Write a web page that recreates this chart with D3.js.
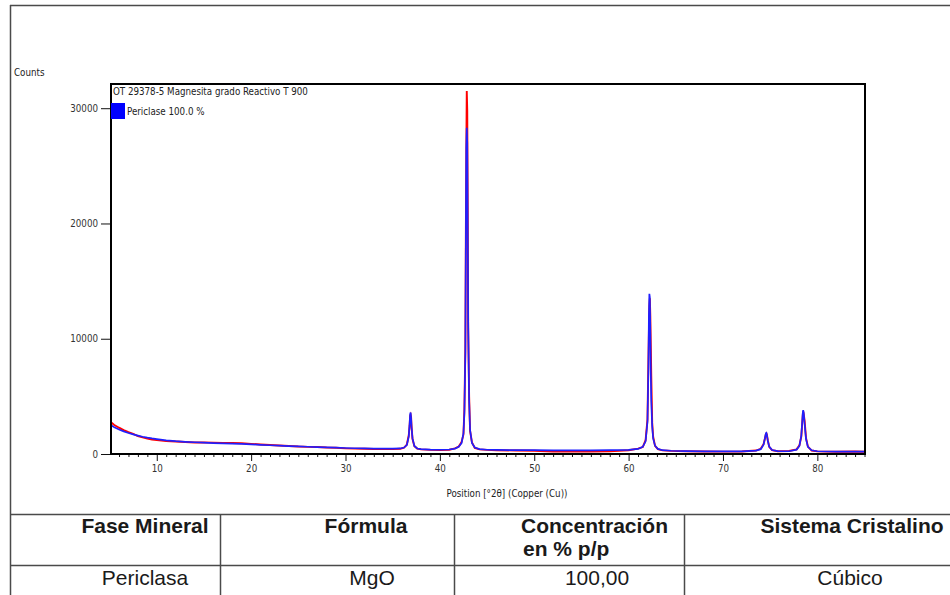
<!DOCTYPE html>
<html>
<head>
<meta charset="utf-8">
<script src="https://cdn.jsdelivr.net/npm/d3@7"></script>
<style>
  body { margin: 0; background: #fff; }
  svg { display: block; }
  .small { font-family: "DejaVu Sans Condensed", "DejaVu Sans", sans-serif; font-size: 9.7px; fill: #222; }
  .cell { font-family: "Liberation Sans", Arial, sans-serif; font-size: 21px; fill: #1a1a1a; }
</style>
</head>
<body>
<div id="chart"></div>
<script>
// 2theta positions (deg) and counts
const twoTheta = [
  5.15, 5.5, 6, 6.5, 7, 7.5, 8, 8.5, 9, 9.5,
  10, 11, 12, 13, 14, 15, 16, 17, 18, 19,
  20, 21, 22, 23, 24, 25, 26, 27, 28, 29,
  30, 31, 32, 33, 34, 35, 35.8, 36.2, 36.5, 36.7,
  36.8, 36.85, 36.9, 36.95, 37.0, 37.1, 37.3, 37.6, 38, 39,
  40, 41, 41.6, 42.0, 42.3, 42.5, 42.6, 42.7, 42.75, 42.8,
  42.85, 42.9, 42.95, 43.0, 43.1, 43.2, 43.4, 43.7, 44.2, 45,
  46, 48, 50, 52, 54, 56, 58, 60, 61, 61.5,
  61.8, 62.0, 62.1, 62.15, 62.2, 62.25, 62.3, 62.35, 62.4, 62.5,
  62.6, 62.8, 63.1, 63.6, 64.5, 66, 68, 70, 72, 73.5,
  74.0, 74.3, 74.45, 74.55, 74.6, 74.65, 74.75, 74.9, 75.2, 75.8,
  77, 77.8, 78.1, 78.3, 78.4, 78.45, 78.5, 78.55, 78.65, 78.8,
  79.0, 79.4, 80, 82, 84, 85.05
];

// calculated profile (blue)
const calcCounts = [
  2500, 2330, 2120, 1960, 1820, 1700, 1600, 1500, 1420, 1350,
  1290, 1180, 1110, 1060, 1020, 980, 950, 920, 900, 870,
  840, 800, 760, 720, 690, 660, 630, 600, 570, 545,
  520, 500, 485, 470, 460, 460, 480, 560, 780, 1500,
  2700, 3450, 3600, 3100, 2300, 1350, 700, 480, 420, 380,
  370, 390, 470, 620, 950, 1800, 3600, 8800, 18000, 26500,
  28300, 27000, 19500, 11500, 4600, 2100, 950, 560, 420, 370,
  350, 340, 330, 320, 320, 320, 330, 360, 440, 620,
  1100, 2800, 7500, 12000, 13900, 13600, 10500, 7000, 4600, 2400,
  1350, 720, 440, 330, 280, 250, 230, 220, 230, 290,
  420, 800, 1400, 1800, 1830, 1650, 1150, 650, 350, 250,
  240, 380, 700, 1600, 2800, 3500, 3800, 3600, 2600, 1300,
  620, 320, 240, 210, 200, 200
];

// observed pattern (red)
const obsCounts = [
  2750, 2520, 2280, 2080, 1900, 1740, 1560, 1440, 1340, 1260,
  1210, 1120, 1080, 1040, 1000, 1010, 990, 960, 950, 930,
  880, 830, 780, 740, 700, 650, 620, 610, 560, 540,
  490, 470, 460, 440, 430, 420, 450, 540, 820, 1600,
  2500, 3300, 3400, 3200, 2400, 1300, 680, 470, 400, 360,
  340, 370, 480, 650, 1050, 1700, 3900, 9200, 18500, 26000,
  31500, 29800, 21500, 11000, 5000, 2000, 1000, 520, 400, 360,
  330, 300, 280, 220, 210, 220, 230, 330, 460, 600,
  1200, 3000, 8200, 10500, 12800, 13500, 12000, 9500, 6800, 2700,
  1500, 700, 420, 310, 270, 240, 220, 210, 220, 300,
  450, 850, 1350, 1750, 1800, 1700, 1200, 620, 330, 240,
  260, 400, 750, 1500, 2700, 3300, 3700, 3500, 2900, 1400,
  640, 300, 230, 200, 220, 200
];

const xTicks = [10, 20, 30, 40, 50, 60, 70, 80];
const yTicks = [0, 10000, 20000, 30000];

const tableHeader = ['Fase Mineral', 'Fórmula', 'Concentración', 'Sistema Cristalino'];
const tableRow = ['Periclasa', 'MgO', '100,00', 'Cúbico'];

const chartTitle = 'OT 29378-5 Magnesita grado Reactivo T 900';
const legendLabel = 'Periclase 100.0 %';

const width = 950, height = 595;
const plot = { left: 111, top: 84, right: 865, bottom: 454 };

const svg = d3.select('#chart').append('svg')
  .attr('width', width)
  .attr('height', height);

// outer frame and table grid
const frame = svg.append('g').attr('stroke', '#4a4a4a').attr('stroke-width', 1.5);
frame.append('line').attr('x1', 10).attr('x2', 950).attr('y1', 5.5).attr('y2', 5.5);
frame.append('line').attr('x1', 10.5).attr('x2', 10.5).attr('y1', 5).attr('y2', 595);
frame.append('line').attr('x1', 10).attr('x2', 950).attr('y1', 514.5).attr('y2', 514.5);
frame.append('line').attr('x1', 10).attr('x2', 950).attr('y1', 565.5).attr('y2', 565.5);
[220.5, 454.5, 684.5].forEach(x => {
  frame.append('line').attr('x1', x).attr('x2', x).attr('y1', 514).attr('y2', 595);
});

const x = d3.scaleLinear().domain([5.15, 85.05]).range([plot.left, plot.right]);
const y = d3.scaleLinear().domain([0, 32100]).range([plot.bottom, plot.top]);

svg.append('clipPath').attr('id', 'clip')
  .append('rect')
  .attr('x', plot.left).attr('y', plot.top)
  .attr('width', plot.right - plot.left).attr('height', plot.bottom - plot.top);

const line = d3.line()
  .x(d => x(d[0]))
  .y(d => y(d[1]));

const g = svg.append('g').attr('clip-path', 'url(#clip)');

g.append('path')
  .datum(twoTheta.map((t, i) => [t, obsCounts[i]]))
  .attr('fill', 'none')
  .attr('stroke', '#ff0000')
  .attr('stroke-width', 1.9)
  .attr('d', line);

g.append('path')
  .datum(twoTheta.map((t, i) => [t, calcCounts[i]]))
  .attr('fill', 'none')
  .attr('stroke', '#1f1fff')
  .attr('stroke-width', 1.7)
  .attr('d', line);

// X axis: majors with labels, minors every degree
const xAxis = svg.append('g')
  .attr('class', 'small')
  .attr('transform', 'translate(0,' + plot.bottom + ')')
  .call(d3.axisBottom(x).tickValues(xTicks).tickSize(7).tickPadding(4));
xAxis.select('.domain').remove();

const minor = d3.range(6, 86).filter(v => xTicks.indexOf(v) < 0);
const xMinor = svg.append('g')
  .attr('transform', 'translate(0,' + plot.bottom + ')')
  .call(d3.axisBottom(x).tickValues(minor).tickSize(3).tickFormat(''));
xMinor.select('.domain').remove();

// Y axis
const yAxis = svg.append('g')
  .attr('class', 'small')
  .attr('transform', 'translate(' + plot.left + ',0)')
  .call(d3.axisLeft(y).tickValues(yTicks).tickSize(10).tickPadding(3).tickFormat(d3.format('d')));
yAxis.select('.domain').remove();

svg.selectAll('.tick text').attr('fill', '#333').style('font-family', '"DejaVu Sans Condensed", "DejaVu Sans", sans-serif').style('font-size', '9.7px');
svg.selectAll('.tick line').attr('stroke', '#111');

// plot box
svg.append('rect')
  .attr('x', plot.left).attr('y', plot.top)
  .attr('width', plot.right - plot.left).attr('height', plot.bottom - plot.top)
  .attr('fill', 'none')
  .attr('stroke', '#000')
  .attr('stroke-width', 2);

// labels
svg.append('text').attr('class', 'small')
  .attr('x', 14).attr('y', 76)
  .text('Counts');

svg.append('text').attr('class', 'small')
  .attr('x', 113).attr('y', 95)
  .text(chartTitle);

svg.append('rect')
  .attr('x', 111).attr('y', 103)
  .attr('width', 14).attr('height', 16)
  .attr('fill', '#0000ff');

svg.append('text').attr('class', 'small')
  .attr('x', 127).attr('y', 115)
  .text(legendLabel);

svg.append('text').attr('class', 'small')
  .attr('x', 507).attr('y', 497)
  .attr('text-anchor', 'middle')
  .text('Position [°2θ] (Copper (Cu))');

// table
const headerX = [145, 366, 521, 852];
svg.selectAll('.hdr')
  .data(tableHeader)
  .enter().append('text')
  .attr('class', 'cell hdr')
  .attr('x', (d, i) => headerX[i])
  .attr('y', 533)
  .attr('text-anchor', (d, i) => i === 2 ? 'start' : 'middle')
  .style('font-weight', 'bold')
  .text(d => d);

svg.append('text')
  .attr('class', 'cell')
  .attr('x', 523).attr('y', 556)
  .style('font-weight', 'bold')
  .text('en % p/p');

const rowX = [145, 372, 597, 850];
svg.selectAll('.row')
  .data(tableRow)
  .enter().append('text')
  .attr('class', 'cell row')
  .attr('x', (d, i) => rowX[i])
  .attr('y', 585)
  .attr('text-anchor', 'middle')
  .text(d => d);
</script>
</body>
</html>
